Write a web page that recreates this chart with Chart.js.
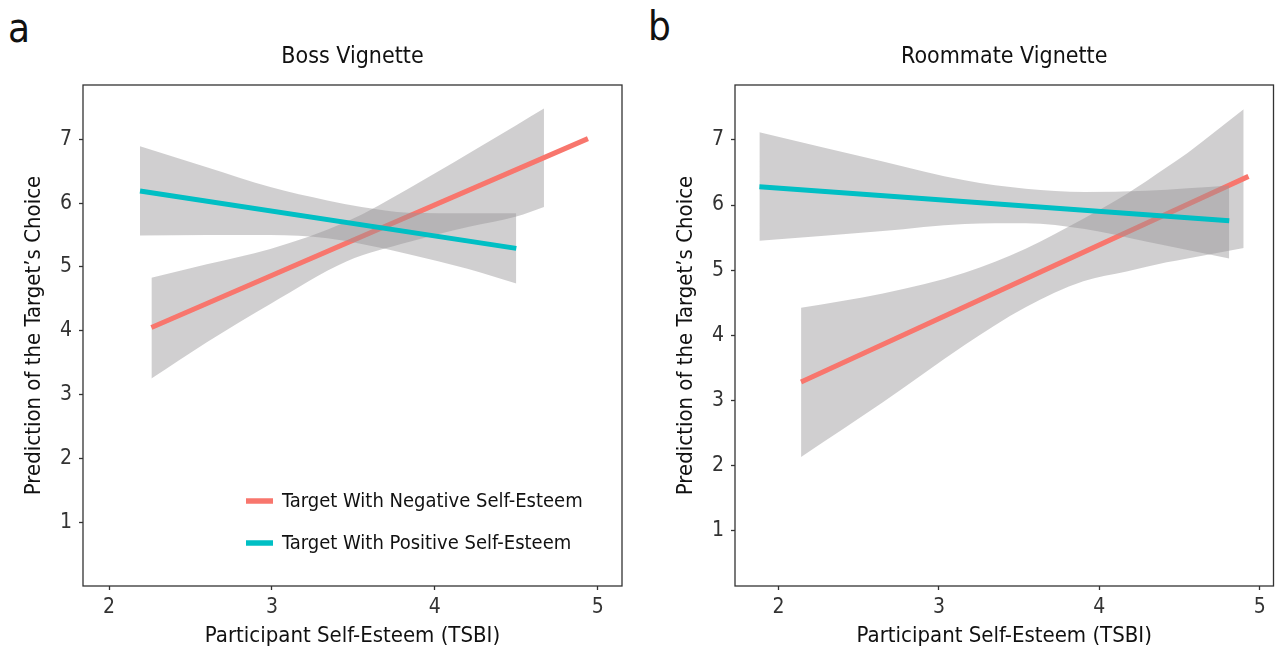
<!DOCTYPE html>
<html>
<head>
<meta charset="utf-8">
<script src="https://cdn.jsdelivr.net/npm/chart.js@4.4.1/dist/chart.umd.min.js"></script>
<style>
  html, body { margin: 0; padding: 0; background: #fff; }
  body { width: 1275px; height: 651px; position: relative; overflow: hidden; }
  .panel { position: absolute; top: 0; height: 651px; }
  #panelA { left: 0; width: 640px; }
  #panelB { left: 652px; width: 623px; }
  .tag { position: absolute; font-family: 'Liberation Sans Narrow', 'DejaVu Sans Condensed', Roboto, sans-serif; font-size: 40px; line-height: 1; color: #111; }
</style>
</head>
<body>
<div class="tag" style="left:8px; top:8px;">a</div>
<div class="tag" style="left:648px; top:6px;">b</div>
<div class="panel" id="panelA"><canvas id="chartA"></canvas></div>
<div class="panel" id="panelB"><canvas id="chartB"></canvas></div>
<script>
// Boss vignette (panel a)
const bossNegLineX = [2.26, 4.94];
const bossNegLineY = [4.05, 7.01];
const bossNegBandX = [2.26, 2.6, 2.99, 3.46, 3.84, 4.21, 4.5, 4.67];
const bossNegBandLo = [3.25, 3.82, 4.42, 5.09, 5.39, 5.63, 5.79, 5.94];
const bossNegBandHi = [4.83, 5.04, 5.28, 5.71, 6.23, 6.78, 7.22, 7.48];

const bossPosLineX = [2.19, 4.5];
const bossPosLineY = [6.19, 5.29];
const bossPosBandX = [2.19, 2.6, 2.99, 3.34, 3.55, 3.84, 4.2, 4.5];
const bossPosBandLo = [5.49, 5.5, 5.5, 5.45, 5.36, 5.2, 4.97, 4.74];
const bossPosBandHi = [6.89, 6.56, 6.25, 6.04, 5.94, 5.85, 5.84, 5.84];

// Roommate vignette (panel b)
const roomNegLineX = [2.14, 4.93];
const roomNegLineY = [3.28, 6.44];
const roomNegBandX = [2.14, 2.65, 3.16, 3.54, 3.9, 4.17, 4.42, 4.55, 4.9];
const roomNegBandLo = [2.13, 2.97, 3.85, 4.43, 4.83, 4.98, 5.12, 5.18, 5.34];
const roomNegBandHi = [4.42, 4.64, 4.96, 5.33, 5.79, 6.17, 6.58, 6.8, 7.47];

const roomPosLineX = [1.88, 4.81];
const roomPosLineY = [6.28, 5.76];
const roomPosBandX = [1.88, 2.65, 3.16, 3.54, 3.91, 4.29, 4.81];
const roomPosBandLo = [5.45, 5.6, 5.71, 5.72, 5.63, 5.44, 5.18];
const roomPosBandHi = [7.12, 6.67, 6.38, 6.25, 6.2, 6.22, 6.3];

const xTicks = [2, 3, 4, 5];
const yTicks = [1, 2, 3, 4, 5, 6, 7];
const seriesNames = ['Target With Negative Self-Esteem', 'Target With Positive Self-Esteem'];
const seriesColors = ['#F8766D', '#00BFC4'];

const FONT = "'Liberation Sans Narrow', 'DejaVu Sans Condensed', Roboto, sans-serif";
const bandColor = 'rgba(150, 148, 150, 0.45)';

const toPoints = (xs, ys) => xs.map((x, i) => ({ x, y: ys[i] }));

function bandPair(xs, lo, hi, order) {
    const common = { borderWidth: 0, pointRadius: 0, cubicInterpolationMode: 'monotone', isBand: true };
    return [
        { ...common, label: 'lo', data: toPoints(xs, lo), fill: false, order: order + 1 },
        { ...common, label: 'hi', data: toPoints(xs, hi), fill: '-1', backgroundColor: bandColor, order: order }
    ];
}

function lineSet(idx, xs, ys, order) {
    return { label: seriesNames[idx], data: toPoints(xs, ys), borderColor: seriesColors[idx], borderWidth: 5, pointRadius: 0, fill: false, order: order };
}

const frame = {
    id: 'frame',
    afterDatasetsDraw(chart) {
        const a = chart.chartArea, ctx = chart.ctx;
        ctx.save();
        ctx.strokeStyle = '#333';
        ctx.lineWidth = 1.3;
        ctx.strokeRect(a.left, a.top, a.right - a.left, a.bottom - a.top);
        ctx.restore();
    }
};

const innerLegend = {
    id: 'innerLegend',
    afterDraw(chart, args, opts) {
        if (!opts.show) return;
        const a = chart.chartArea, ctx = chart.ctx;
        const lines = chart.data.datasets.filter(d => !d.isBand);
        ctx.save();
        ctx.font = '20px ' + FONT;
        ctx.textBaseline = 'middle';
        lines.sort((p, q) => seriesNames.indexOf(p.label) - seriesNames.indexOf(q.label)).forEach((d, i) => {
            const y = a.bottom - 85 + i * 42;
            ctx.strokeStyle = d.borderColor;
            ctx.lineWidth = 5.5;
            ctx.beginPath();
            ctx.moveTo(a.left + 163, y);
            ctx.lineTo(a.left + 190, y);
            ctx.stroke();
            ctx.fillStyle = '#111';
            ctx.fillText(d.label, a.left + 199, y + 1);
        });
        ctx.restore();
    }
};

function makeChart(canvas, cfg) {
    return new Chart(canvas, {
        type: 'line',
        data: { datasets: cfg.datasets },
        options: {
            responsive: true, maintainAspectRatio: false, animation: false,
            layout: { padding: { left: 0, right: cfg.padRight, top: 0, bottom: 0 } },
            scales: {
                x: {
                    type: 'linear', min: cfg.xMin, max: cfg.xMax,
                    afterBuildTicks: s => { s.ticks = xTicks.map(v => ({ value: v })); },
                    afterFit: s => { s.height = 65; },
                    ticks: { padding: 5, color: '#333', font: { family: FONT, size: 21 } },
                    grid: { drawOnChartArea: false, tickLength: 4, color: '#333', tickWidth: 1.3 },
                    border: { display: false },
                    title: { display: true, text: 'Participant Self-Esteem (TSBI)', color: '#111', font: { family: FONT, size: 22 }, padding: { top: 0, bottom: 2 } }
                },
                y: {
                    type: 'linear', min: cfg.yMin, max: cfg.yMax,
                    afterBuildTicks: s => { s.ticks = yTicks.map(v => ({ value: v })); },
                    afterFit: s => { s.width = 83; },
                    ticks: { padding: 7, color: '#333', font: { family: FONT, size: 21 } },
                    grid: { drawOnChartArea: false, tickLength: 4, color: '#333', tickWidth: 1.3 },
                    border: { display: false },
                    title: { display: true, text: 'Prediction of the Target\u2019s Choice', color: '#111', font: { family: FONT, size: 22 }, padding: { top: 21, bottom: 0 } }
                }
            },
            plugins: {
                legend: { display: false },
                tooltip: { enabled: false },
                title: { display: true, text: cfg.title, fullSize: false, color: '#111', font: { family: FONT, size: 23, weight: 'normal' }, padding: { top: 43, bottom: 14.4 } },
                innerLegend: { show: cfg.legend }
            }
        },
        plugins: [frame, innerLegend]
    });
}

makeChart(document.getElementById('chartA'), {
    title: 'Boss Vignette', legend: true, padRight: 18,
    xMin: 1.84, xMax: 5.149, yMin: 0, yMax: 7.85,
    datasets: [
        ...bandPair(bossNegBandX, bossNegBandLo, bossNegBandHi, 4),
        lineSet(0, bossNegLineX, bossNegLineY, 3),
        ...bandPair(bossPosBandX, bossPosBandLo, bossPosBandHi, 1),
        lineSet(1, bossPosLineX, bossPosLineY, 0)
    ]
});

makeChart(document.getElementById('chartB'), {
    title: 'Roommate Vignette', legend: false, padRight: 1.5,
    xMin: 1.728, xMax: 5.086, yMin: 0.147, yMax: 7.844,
    datasets: [
        ...bandPair(roomNegBandX, roomNegBandLo, roomNegBandHi, 4),
        lineSet(0, roomNegLineX, roomNegLineY, 3),
        ...bandPair(roomPosBandX, roomPosBandLo, roomPosBandHi, 1),
        lineSet(1, roomPosLineX, roomPosLineY, 0)
    ]
});
</script>
</body>
</html>
